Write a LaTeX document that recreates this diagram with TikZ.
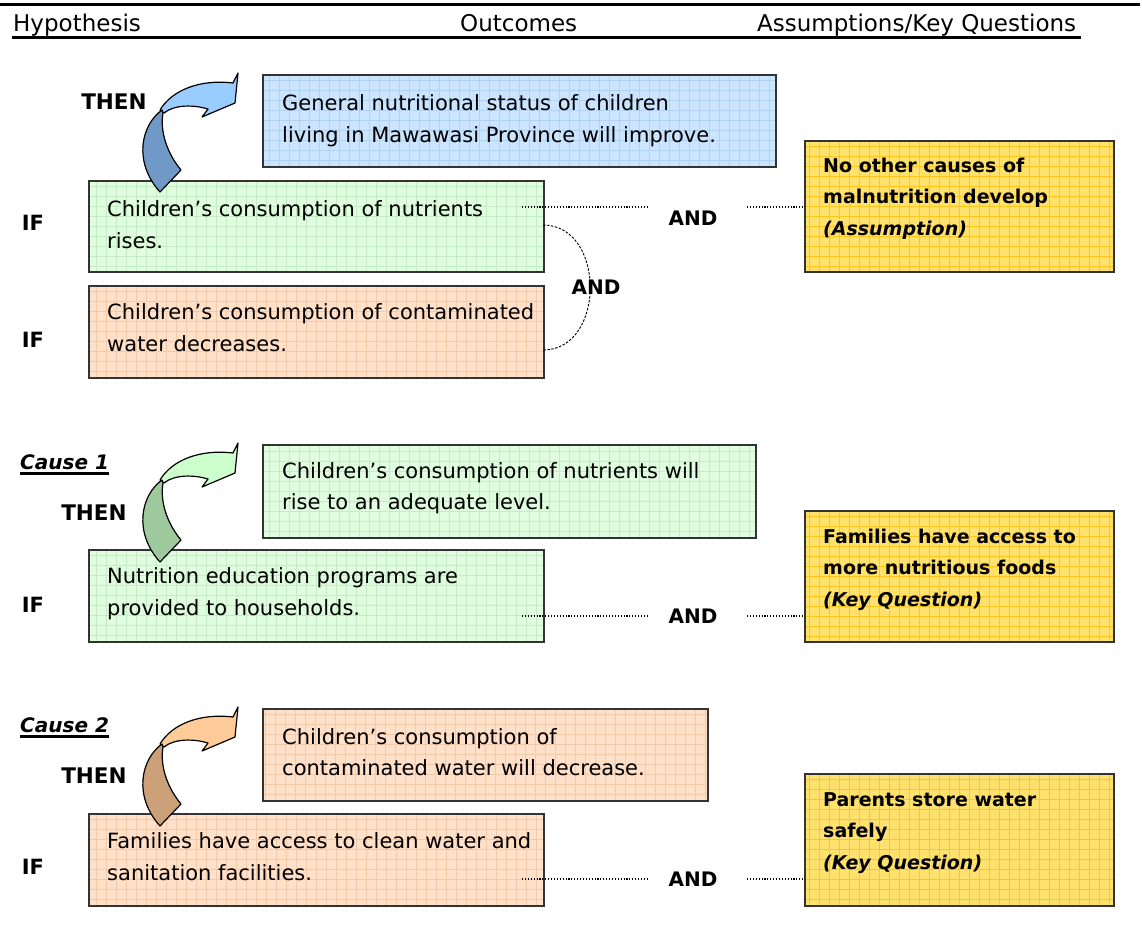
\documentclass[tikz,border=0pt]{standalone}
\usepackage{fontspec}
\setmainfont{DejaVu Sans}
\definecolor{bluefill}{RGB}{204,229,255}
\definecolor{bluegrid}{RGB}{178,210,245}
\definecolor{greenfill}{RGB}{224,253,224}
\definecolor{greengrid}{RGB}{198,236,198}
\definecolor{orangefill}{RGB}{255,224,200}
\definecolor{orangegrid}{RGB}{245,202,168}
\definecolor{yellowfill}{RGB}{255,226,110}
\definecolor{yellowgrid}{RGB}{255,198,30}
\definecolor{arrblueL}{RGB}{153,204,255}
\definecolor{arrblueD}{RGB}{112,153,200}
\definecolor{arrgreenL}{RGB}{204,255,204}
\definecolor{arrgreenD}{RGB}{158,202,158}
\definecolor{arrorangeL}{RGB}{255,204,153}
\definecolor{arrorangeD}{RGB}{204,160,120}
\newcommand\curvarrow[3]{%
  \begin{scope}[shift={(0,#1)}]
    \filldraw[fill=#2, arrowline] (160,110) .. controls (172,90) and (200,79) .. (233,83)
      -- (238,73) -- (235,103) -- (202,117) -- (208,109)
      .. controls (195,105) and (175,104) .. (164,113) -- cycle;
    \filldraw[fill=#3, arrowline] (162,110) .. controls (141,125) and (133,162) .. (160,192)
      -- (181,170) .. controls (166,152) and (160,130) .. (163,113) -- cycle;
  \end{scope}}
\begin{document}
\begin{tikzpicture}[x=1pt,y=-1pt,
  box/.style 2 args={draw=black!80, line width=1.5pt, fill=#1, inner sep=0pt, anchor=north west,
    path picture={\draw[#2, line width=0.6pt, step=10pt] (path picture bounding box.south west) grid (path picture bounding box.north east);}},
  txt/.style={font=\fontsize{21}{31.5}\selectfont, align=left, inner sep=0pt, anchor=west},
  ytxt/.style={font=\bfseries\fontsize{19}{31.5}\selectfont, align=left, inner sep=0pt, anchor=west},
  hdr/.style={font=\fontsize{23}{26}\selectfont, inner sep=0pt, anchor=base west},
  lbl/.style={font=\bfseries\fontsize{20}{24}\selectfont, inner sep=0pt},
  cause/.style={font=\bfseries\itshape\fontsize{20}{24}\selectfont, inner sep=0pt, anchor=base west},
  dotline/.style={line width=1.3pt, dash pattern=on 1.1pt off 1.8pt},
  arcline/.style={line width=0.9pt, dash pattern=on 2.5pt off 1.5pt},
  arrowline/.style={draw=black, line width=1.2pt, line join=round}]
\useasboundingbox (0,0) rectangle (1142,935);
\fill[white] (0,0) rectangle (1142,935);
% header
\draw[line width=3pt] (0,4) -- (1140,4);
\node[hdr] (hh) at (13,31) {Hypothesis};
\node[hdr] (ho) at (460,31) {Outcomes};
\node[hdr] (ha) at (757,31) {Assumptions/Key Questions};
\draw[line width=3pt] (12,37.5) -- (1081,37.5);
% section 1
\node[box={bluefill}{bluegrid}, minimum width=513pt, minimum height=92pt] (out1) at (262,74) {};
\node[txt] (out1t) at ([xshift=20pt]out1.west) {General nutritional status of children\\living in Mawawasi Province will improve.};
\node[box={greenfill}{greengrid}, minimum width=455pt, minimum height=91pt] (g1) at (88,180) {};
\node[txt] (g1t) at ([xshift=19pt,yshift=1.5pt]g1.west) {Children’s consumption of nutrients\\rises.};
\node[box={orangefill}{orangegrid}, minimum width=455pt, minimum height=92pt] (o1) at (88,285) {};
\node[txt] (o1t) at ([xshift=19pt,yshift=4pt]o1.west) {Children’s consumption of contaminated\\water decreases.};
\node[box={yellowfill}{yellowgrid}, minimum width=309pt, minimum height=131pt] (y1) at (804,140) {};
\node[ytxt] (y1t) at ([xshift=19pt,yshift=7.5pt]y1.west) {No other causes of\\malnutrition develop\\\textit{(Assumption)}};
\node[lbl, font=\bfseries\fontsize{21.5}{24}\selectfont] (then1) at (114,102) {THEN};
\node[lbl, font=\bfseries\fontsize{21}{24}\selectfont] (if1) at (33,223) {IF};
\node[lbl, font=\bfseries\fontsize{21}{24}\selectfont] (if2) at (33,340) {IF};
\coordinate (d1a) at (522,207);
\coordinate (d1b) at (647,207);
\coordinate (d1c) at (747,207);
\draw[dotline] (d1a) -- (d1b);
\draw[dotline] (d1c) -- (d1c -| y1.west);
\node[lbl] (and1) at (693,218) {AND};
\coordinate (a1s) at (543,225);
\coordinate (a1e) at (543,350);
\draw[arcline] (a1s) .. controls (606,225) and (606,350) .. (a1e);
\node[lbl] (and2) at (596,287) {AND};
\curvarrow{0}{arrblueL}{arrblueD}
% section 2
\node[cause] (c1) at (20,469) {Cause 1};
\draw[line width=2.2pt] ([yshift=-4.5pt]c1.base west) -- ([yshift=-4.5pt]c1.base east);
\node[box={greenfill}{greengrid}, minimum width=493pt, minimum height=93pt] (out2) at (262,444) {};
\node[txt] (out2t) at ([xshift=20pt,yshift=3pt]out2.west) {Children's consumption of nutrients will\\rise to an adequate level.};
\node[box={greenfill}{greengrid}, minimum width=455pt, minimum height=92pt] (g2) at (88,549) {};
\node[txt] (g2t) at ([xshift=19pt,yshift=2pt]g2.west) {Nutrition education programs are\\provided to households.};
\node[box={yellowfill}{yellowgrid}, minimum width=309pt, minimum height=131pt] (y2) at (804,510) {};
\node[ytxt] (y2t) at ([xshift=19pt,yshift=6.5pt]y2.west) {Families have access to\\more nutritious foods\\\textit{(Key Question)}};
\node[lbl, font=\bfseries\fontsize{21.5}{24}\selectfont] (then2) at (94,513) {THEN};
\node[lbl, font=\bfseries\fontsize{21}{24}\selectfont] (if3) at (33,605) {IF};
\coordinate (d2a) at (522,616);
\coordinate (d2b) at (647,616);
\coordinate (d2c) at (747,616);
\draw[dotline] (d2a) -- (d2b);
\draw[dotline] (d2c) -- (d2c -| y2.west);
\node[lbl] (and3) at (693,616) {AND};
\curvarrow{370}{arrgreenL}{arrgreenD}
% section 3
\node[cause] (c2) at (20,732) {Cause 2};
\draw[line width=2.2pt] ([yshift=-4.5pt]c2.base west) -- ([yshift=-4.5pt]c2.base east);
\node[box={orangefill}{orangegrid}, minimum width=445pt, minimum height=92pt] (out3) at (262,708) {};
\node[txt] (out3t) at ([xshift=20pt,yshift=2.5pt]out3.west) {Children's consumption of\\contaminated water will decrease.};
\node[box={orangefill}{orangegrid}, minimum width=455pt, minimum height=92pt] (o3) at (88,813) {};
\node[txt] (o3t) at ([xshift=19pt,yshift=3pt]o3.west) {Families have access to clean water and\\sanitation facilities.};
\node[box={yellowfill}{yellowgrid}, minimum width=309pt, minimum height=132pt] (y3) at (804,773) {};
\node[ytxt] (y3t) at ([xshift=19pt,yshift=7pt]y3.west) {Parents store water\\safely\\\textit{(Key Question)}};
\node[lbl, font=\bfseries\fontsize{21.5}{24}\selectfont] (then3) at (94,776) {THEN};
\node[lbl, font=\bfseries\fontsize{21}{24}\selectfont] (if4) at (33,867) {IF};
\coordinate (d3a) at (522,879);
\coordinate (d3b) at (647,879);
\coordinate (d3c) at (747,879);
\draw[dotline] (d3a) -- (d3b);
\draw[dotline] (d3c) -- (d3c -| y3.west);
\node[lbl] (and4) at (693,879) {AND};
\curvarrow{634}{arrorangeL}{arrorangeD}
\end{tikzpicture}
\end{document}
